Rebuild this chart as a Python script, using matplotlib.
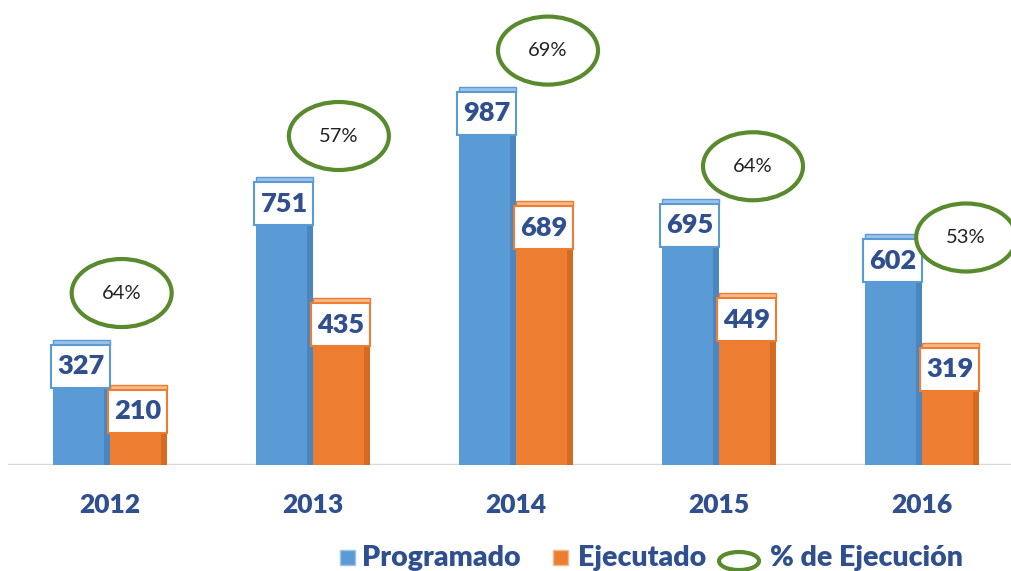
import matplotlib
matplotlib.use("Agg")
import matplotlib.pyplot as plt
from matplotlib.patches import Rectangle, Ellipse
import numpy as np

years = ["2012", "2013", "2014", "2015", "2016"]
programado = [327, 751, 987, 695, 602]
ejecutado = [210, 435, 689, 449, 319]
pct_labels = ["64%", "57%", "69%", "64%", "53%"]
legend_labels = ["Programado", "Ejecutado", "% de Ejecución"]

# layout offsets of the percentage ellipses (x in category units, y in data units above Programado)
ell_dx = [0.06, 0.13, 0.16, 0.17, 0.22]
ell_dy = [122, 108, 95, 85, -8]

BLUE = "#5b9bd5"
BLUE_D = "#4a86c0"
BLUE_L = "#9dc3e6"
ORANGE = "#ed7d31"
ORANGE_D = "#d56a22"
ORANGE_L = "#f8b98a"
GREEN = "#5a8a2e"
TXT = "#2f4f8f"
FONT = "Lato"

W, H = 1011, 571
fig = plt.figure(figsize=(W / 100, H / 100), dpi=100)
ax = fig.add_axes([8 / W, 106 / H, 1 - 8 / W, 465 / H])
px_per_cat = 203.0
ax.set_xlim(-0.5, -0.5 + (W - 8) / px_per_cat)
ymax = 465 / 0.383
ax.set_ylim(0, ymax)
for s in ax.spines.values():
    s.set_visible(False)
ax.set_xticks([])
ax.set_yticks([])
ax.axhline(0, color="#d9d9d9", lw=2.5, zorder=1)

x = np.arange(len(years))
bw = 57 / px_per_cat
unit_per_px = ymax / 465.0

def draw_bar(xl, val, col, dark, light):
    ax.bar(xl, val, width=bw, align="edge", color=col, edgecolor="none", zorder=2)
    # darker right side
    ax.bar(xl + bw * 0.9, val, width=bw * 0.1, align="edge", color=dark, edgecolor="none", zorder=2)
    # top cap
    cap = 5 * unit_per_px
    ax.add_patch(Rectangle((xl, val - cap), bw, cap, facecolor=light, edgecolor=col, lw=1, zorder=3))
    # label box
    bh = 43 * unit_per_px
    top = val - cap
    ax.add_patch(Rectangle((xl - 2 / px_per_cat, top - bh), bw + 2 / px_per_cat, bh,
                           facecolor="white", edgecolor=col, lw=1.5, zorder=4))
    ax.text(xl + bw / 2, top - bh / 2, f"{val}", ha="center", va="center",
            fontsize=19.5, fontweight="heavy", color=TXT, family=FONT, zorder=5)

for i in range(len(years)):
    draw_bar(x[i] - bw, programado[i], BLUE, BLUE_D, BLUE_L)
    draw_bar(x[i], ejecutado[i], ORANGE, ORANGE_D, ORANGE_L)
    cx = x[i] + ell_dx[i]
    cy = programado[i] + ell_dy[i]
    ax.add_patch(Ellipse((cx, cy), 100 / px_per_cat, 68 * unit_per_px, facecolor="white",
                         edgecolor=GREEN, lw=3, zorder=6))
    ax.text(cx, cy, pct_labels[i], ha="center", va="center", fontsize=14.5,
            color="#222222", family="Lato", zorder=7)
    ax.text(x[i], -40 / 465, years[i], transform=ax.get_xaxis_transform(), ha="center",
            va="center", fontsize=19, fontweight="heavy", color=TXT, family=FONT)

# legend
ly = 13 / H
def fx(p):
    return p / W
fig.patches.append(Rectangle((fx(340), (H - 565) / H), 15 / W, 15 / H, transform=fig.transFigure,
                             facecolor=BLUE, edgecolor=BLUE_L, lw=1))
fig.text(fx(362), ly, legend_labels[0], ha="left", va="center", fontsize=20.5, fontweight="heavy",
         color=TXT, family=FONT)
fig.patches.append(Rectangle((fx(553), (H - 565) / H), 15 / W, 15 / H, transform=fig.transFigure,
                             facecolor=ORANGE, edgecolor=ORANGE_L, lw=1))
fig.text(fx(578), ly, legend_labels[1], ha="left", va="center", fontsize=20.5, fontweight="heavy",
         color=TXT, family=FONT)
fig.patches.append(Ellipse((fx(739), (H - 561) / H), 40 / W, 18 / H, transform=fig.transFigure,
                           facecolor="white", edgecolor=GREEN, lw=3))
fig.text(fx(770), ly, legend_labels[2], ha="left", va="center", fontsize=20.5, fontweight="heavy",
         color=TXT, family=FONT)

fig.savefig("out.png", dpi=100)
